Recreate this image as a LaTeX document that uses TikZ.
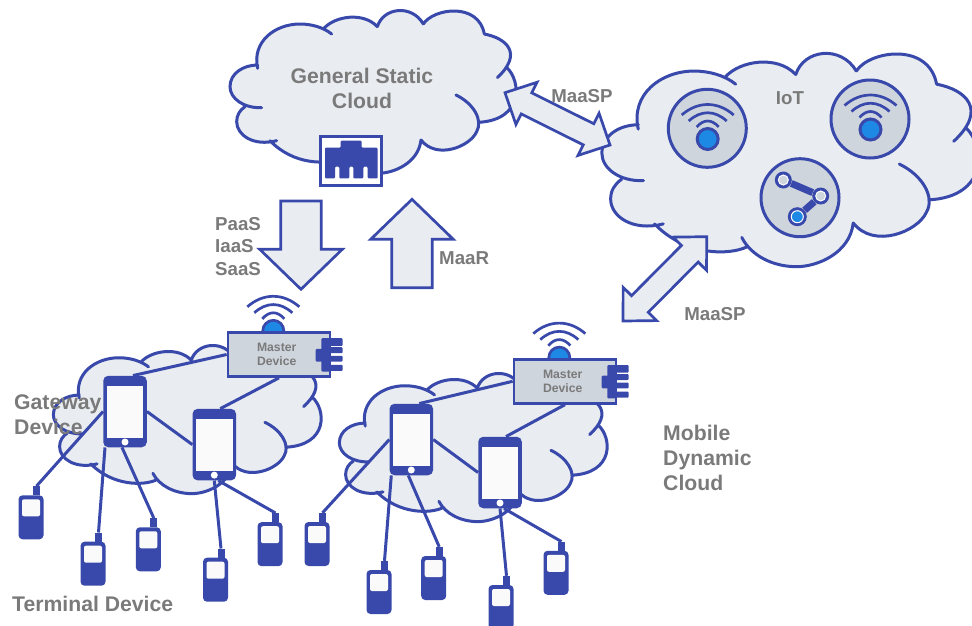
\documentclass[tikz,border=0pt]{standalone}
\usepackage{fontspec}
\setmainfont{Liberation Sans}
\usetikzlibrary{calc,positioning}
\definecolor{netblue}{HTML}{3949AB}
\definecolor{cloudgray}{HTML}{E9ECF0}
\definecolor{boxgray}{HTML}{CFD5DD}
\definecolor{ledblue}{HTML}{1E88E5}
\definecolor{labelgray}{HTML}{7A7A7A}
\definecolor{screenwhite}{HTML}{FAFAFA}

\newcommand{\cloudbumps}{
  (113,175) .. controls (95,95) and (165,42) .. (240,42) .. controls (275,42) and (310,52) .. (335,72)
  (312,55) .. controls (345,18) and (430,5) .. (472,50)
  (472,50) .. controls (490,-8) and (575,-18) .. (610,42)
  (610,42) .. controls (640,-5) and (775,-25) .. (793,72)
  (793,72) .. controls (860,85) and (910,130) .. (832,203)
  (860,172) .. controls (905,215) and (910,330) .. (775,337)
  (708,255) .. controls (760,280) and (790,330) .. (770,365) .. controls (750,410) and (650,450) .. (603,390)
  (603,390) .. controls (595,460) and (520,490) .. (474,490) .. controls (420,490) and (370,465) .. (349,423)
  (362,444) .. controls (320,465) and (220,465) .. (150,392)
  (170,392) .. controls (100,410) and (50,375) .. (50,335) .. controls (50,315) and (60,300) .. (75,290)
  (125,293) .. controls (70,295) and (30,265) .. (30,230) .. controls (30,190) and (70,165) .. (113,165)
}
\newcommand{\dblarrow}[2]{
  \draw[blockarrow] (#1) -- ($(#1)!24pt!(#2)!23.6pt!90:(#2)$) -- ($(#1)!24pt!(#2)!11.8pt!90:(#2)$)
    -- ($(#2)!24pt!(#1)!11.8pt!-90:(#1)$) -- ($(#2)!24pt!(#1)!23.6pt!-90:(#1)$) -- (#2)
    -- ($(#2)!24pt!(#1)!23.6pt!90:(#1)$) -- ($(#2)!24pt!(#1)!11.8pt!90:(#1)$)
    -- ($(#1)!24pt!(#2)!11.8pt!-90:(#2)$) -- ($(#1)!24pt!(#2)!23.6pt!-90:(#2)$) -- cycle;
}
\newcommand{\sglarrow}[2]{
  \draw[blockarrow] ($(#1)!20.3pt!90:(#2)$) -- ($(#2)!40pt!(#1)!20.3pt!-90:(#1)$)
    -- ($(#2)!40pt!(#1)!41.3pt!-90:(#1)$) -- (#2) -- ($(#2)!40pt!(#1)!41.3pt!90:(#1)$)
    -- ($(#2)!40pt!(#1)!20.3pt!90:(#1)$) -- ($(#1)!20.3pt!-90:(#2)$) -- cycle;
}

\tikzset{
  cloudshape/.pic = {
    \fill[cloudgray] \cloudbumps (113,175) -- (312,55) -- (472,50) -- (610,42) -- (793,72) -- (860,172) -- (775,337)
      -- (603,390) -- (474,490) -- (362,444) -- (150,392) -- (75,290) -- (125,293) -- (113,165) -- cycle;
    \draw[netblue, line width=3pt, line cap=round] \cloudbumps;
  },
  wifi/.pic = {
    \draw[waves] (-26,-24) .. controls (-10,-38) and (10,-38) .. (26,-24);
    \draw[waves] (-19,-18) .. controls (-7,-29) and (7,-29) .. (19,-18);
    \draw[waves] (-11,-12) .. controls (-4,-20) and (4,-20) .. (11,-12);
  },
  phone/.pic = {
    \node[phonebody] (body) {};
    \node[phonescreen] (screen) at (0,0) {};
    \node[phonehome] (home) at (0,30.5) {};
  },
  terminal/.pic = {
    \node[termbody] (body) {};
    \node[termscreen] (screen) at (0,-9.5) {};
    \node[termant] (ant) at (5.5,-26.5) {};
  },
  master/.pic = {
    \node[dome] (dome) at (-5.7,-23.7) {};
    \pic at (-5.7,-23.7) {wifi};
    \fill[netblue, rounded corners=1pt] (50,-16.3) rectangle (63.7,-8.7);
    \fill[netblue, rounded corners=1pt] (50,-7.3) rectangle (63.7,-1.3);
    \fill[netblue, rounded corners=1pt] (50,1.3) rectangle (63.7,7);
    \fill[netblue, rounded corners=1pt] (50,10.3) rectangle (63.7,16.3);
    \node[masterbox] (box) {};
    \fill[netblue, rounded corners=1pt] (42.3,-16.3) rectangle (51.9,17);
    \fill[netblue, rounded corners=1pt] (36.7,-5.7) rectangle (44,7);
    \node[small] (label) at (-2.3,0) {Master\\Device};
  },
}

\begin{document}
\begin{tikzpicture}[x=1pt, y=-1pt,
  link/.style = {netblue, line width=3pt},
  waves/.style = {netblue, line width=2.7pt},
  blockarrow/.style = {draw=netblue, fill=cloudgray, line width=2.7pt},
  big/.style = {font=\fontsize{21.2}{25}\bfseries\selectfont, text=labelgray, align=left, inner sep=0},
  mid/.style = {font=\fontsize{18.7}{22.5}\bfseries\selectfont, text=labelgray, align=left, inner sep=0},
  small/.style = {font=\fontsize{12.2}{14.3}\bfseries\selectfont, text=labelgray, align=center, inner sep=0},
  phonebody/.style = {fill=netblue, rounded corners=5pt, minimum width=43.5pt, minimum height=71.5pt, inner sep=0},
  phonescreen/.style = {fill=screenwhite, minimum width=36.5pt, minimum height=52pt, inner sep=0},
  phonehome/.style = {fill=white, circle, minimum size=7pt, inner sep=0},
  termbody/.style = {fill=netblue, rounded corners=4pt, minimum width=25pt, minimum height=44pt, inner sep=0},
  termscreen/.style = {fill=screenwhite, rounded corners=2pt, minimum width=18pt, minimum height=17pt, inner sep=0},
  termant/.style = {fill=netblue, minimum width=7pt, minimum height=9pt, inner sep=0},
  masterbox/.style = {draw=netblue, fill=boxgray, line width=2.7pt, minimum width=102pt, minimum height=44pt, inner sep=0},
  dome/.style = {draw=netblue, fill=ledblue, line width=2.7pt, circle, minimum size=21pt, inner sep=0},
  badge/.style = {draw=netblue, fill=boxgray, line width=3pt, circle, minimum size=78pt, inner sep=0},
  led/.style = {draw=netblue, fill=ledblue, line width=3pt, circle, minimum size=21pt, inner sep=0},
  joint/.style = {draw=white, fill=boxgray, line width=1pt, circle, minimum size=10pt, inner sep=0},
  jointled/.style = {draw=white, fill=ledblue, line width=1pt, circle, minimum size=12pt, inner sep=0},
  rim/.style = {fill=netblue, circle, minimum size=17pt, inner sep=0}]
  \useasboundingbox (0,0) rectangle (972,625);

  % clouds
  \pic[scale=1/3] at (220,10) {cloudshape};
  \pic[xscale=.4387, yscale=.4367] at (588.7,52.7) {cloudshape};
  \pic[xscale=.312, yscale=.3033] at (44,345) {cloudshape};
  \pic[xscale=.312, yscale=.3033] at (330,373) {cloudshape};

  % block arrows
  \coordinate (sp1) at (505,92.7);
  \coordinate (sp2) at (610,145);
  \coordinate (sp3) at (706.7,236.7);
  \coordinate (sp4) at (623,321);
  \coordinate (down1) at (301,201);
  \coordinate (down2) at (301,289.3);
  \coordinate (up1) at (412,287.7);
  \coordinate (up2) at (412,199.3);
  \dblarrow{sp1}{sp2}
  \dblarrow{sp3}{sp4}
  \sglarrow{down1}{down2}
  \sglarrow{up1}{up2}

  % static cloud port
  \node[draw=netblue, fill=white, line width=3pt, minimum width=61pt, minimum height=49pt, inner sep=0] (jack) at (351.3,161.3) {};
  \fill[netblue, rounded corners=1pt] (340.7,140.7) -- (361.7,140.7) -- (361.7,147.7) -- (377.7,147.7) -- (377.7,178.3)
    -- (367.7,178.3) -- (367.7,166.7) -- (363.3,166.7) -- (363.3,178.3) -- (353.3,178.3) -- (353.3,166.7) -- (349.3,166.7)
    -- (349.3,178.3) -- (339.3,178.3) -- (339.3,166.7) -- (335,166.7) -- (335,178.3) -- (325,178.3) -- (325,147.7)
    -- (340.7,147.7) -- cycle;

  % IoT things
  \node[badge] (iot1) at (707.3,128.3) {};
  \node[badge] (iot2) at (870,119) {};
  \node[badge] (iot3) at (800,197.7) {};
  \node[led] (led1) at (707.7,139) {};
  \node[led] (led2) at (870.5,129.5) {};
  \pic at (led1) {wifi};
  \pic at (led2) {wifi};
  \node[rim] (rim1) at (783.3,180) {};
  \node[rim] (rim2) at (820.7,196) {};
  \node[rim, minimum size=19pt] (rim3) at (797.3,216.7) {};
  \draw[netblue, line width=7pt] (rim1) -- (rim2);
  \draw[netblue, line width=7pt] (rim2) -- (rim3);
  \node[joint] (n1) at (rim1) {};
  \node[joint] (n2) at (rim2) {};
  \node[jointled] (n3) at (rim3) {};

  % devices, left group
  \pic (p1) at (125,411.5) {phone};
  \pic (p2) at (214.3,444.6) {phone};
  \pic (t1) at (31,517.3) {terminal};
  \pic (t2) at (93,563.7) {terminal};
  \pic (t3) at (148.3,549.3) {terminal};
  \pic (t4) at (215.5,579.7) {terminal};
  \pic (t5) at (270,544.2) {terminal};
  \pic (m1) at (279,354.5) {master};
  \draw[link] (m1box.west) -- ([xshift=8pt]p1body.north);
  \draw[link] (m1box.south) -- ([xshift=6pt]p2body.north);
  \draw[link] (p1body.east) -- (p2body.west);
  \draw[link] (p1body.west) -- (t1ant.north);
  \draw[link] ([xshift=-20pt]p1body.south) -- (t2ant.north);
  \draw[link] ([xshift=-3pt]p1body.south) -- (t3ant.north);
  \draw[link] (p2body.south) -- (t4ant.north);
  \draw[link] ([xshift=4pt]p2body.south) -- (t5ant.north);

  % devices, right group
  \pic (p3) at (411.3,439.5) {phone};
  \pic (p4) at (500,472.5) {phone};
  \pic (t6) at (317,544) {terminal};
  \pic (t7) at (379,592) {terminal};
  \pic (t8) at (433.7,578) {terminal};
  \pic (t9) at (501,607) {terminal};
  \pic (t10) at (556,572.8) {terminal};
  \pic (m2) at (565,381.3) {master};
  \draw[link] (m2box.west) -- ([xshift=8pt]p3body.north);
  \draw[link] (m2box.south) -- ([xshift=6pt]p4body.north);
  \draw[link] (p3body.east) -- (p4body.west);
  \draw[link] (p3body.west) -- (t6ant.north);
  \draw[link] ([xshift=-20pt]p3body.south) -- (t7ant.north);
  \draw[link] ([xshift=-3pt]p3body.south) -- (t8ant.north);
  \draw[link] (p4body.south) -- (t9ant.north);
  \draw[link] ([xshift=4pt]p4body.south) -- (t10ant.north);

  % labels
  \node[big, align=center] (general) at (362,88.5) {General Static\\Cloud};
  \node[mid] (sp1label) at (582,96) {MaaSP};
  \node[mid] (iotlabel) at (790,98) {IoT};
  \node[mid] (sp2label) at (715,314) {MaaSP};
  \node[mid, anchor=west] (services) at (215,246.5) {PaaS\\IaaS\\SaaS};
  \node[mid, anchor=west] (maar) at (439,258) {MaaR};
  \node[big, anchor=west] (gateway) at (14,414.5) {Gateway\\Device};
  \node[big, anchor=west] (termlabel) at (12,604) {Terminal Device};
  \node[big, anchor=west] (mobile) at (663,458) {Mobile\\Dynamic\\Cloud};
\end{tikzpicture}
\end{document}
